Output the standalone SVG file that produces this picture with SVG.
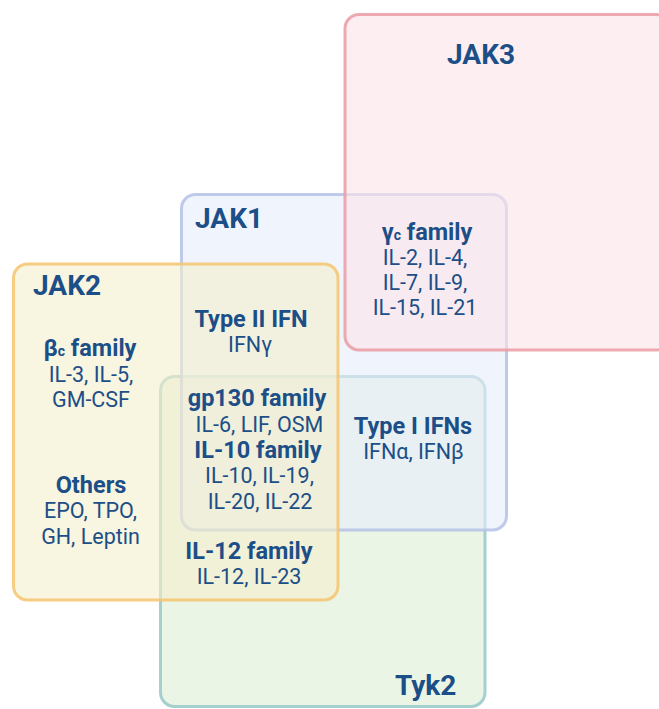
<svg xmlns="http://www.w3.org/2000/svg" width="659" height="709" viewBox="0 0 659 709">
<style>
  .box { stroke-width: 3; }
  .t { font-family: Roboto, "Liberation Sans", sans-serif; fill: #1C4E87; text-anchor: middle; }
  .h { font-size: 28px; font-weight: 700; }
  .b { font-size: 23.5px; font-weight: 700; }
  .r { font-size: 21.5px; font-weight: 400; }
  .sub { font-size: 14px; }
</style>
<rect width="659" height="709" fill="#FFFFFF"/>
<g id="tyk2">
  <rect class="box" x="160.5" y="376.5" width="324.5" height="330" rx="14" fill="#DDEED6" fill-opacity="0.6" stroke="#97C8C8" stroke-opacity="0.85"/>
  <text class="t h" x="395" y="695" style="text-anchor:start">Tyk2</text>
</g>
<g id="jak1">
  <rect class="box" x="181.5" y="194.5" width="325" height="335.5" rx="14" fill="#E6ECFB" fill-opacity="0.6" stroke="#B5C2E6" stroke-opacity="0.85"/>
  <text class="t h" x="195" y="228" style="text-anchor:start">JAK1</text>
</g>
<g id="jak2">
  <rect class="box" x="13.5" y="264" width="324.5" height="336" rx="14" fill="#F4EFCB" fill-opacity="0.6" stroke="#F6C46F" stroke-opacity="0.85"/>
  <text class="t h" x="33" y="295" style="text-anchor:start">JAK2</text>
</g>
<g id="jak3">
  <rect class="box" x="345" y="14.5" width="325" height="335.5" rx="14" fill="#FBE3E7" fill-opacity="0.6" stroke="#EA9BA3" stroke-opacity="0.85"/>
  <text class="t h" x="481" y="64">JAK3</text>
</g>
<g id="connectors"></g>
<g id="labels">
  <text class="t b" x="427" y="240">γ<tspan class="sub">c</tspan> family</text>
  <text class="t r" x="425" y="265">IL-2, IL-4,</text>
  <text class="t r" x="425" y="290">IL-7, IL-9,</text>
  <text class="t r" x="425" y="315">IL-15, IL-21</text>

  <text class="t b" x="251" y="327">Type II IFN</text>
  <text class="t r" x="250" y="352">IFNγ</text>

  <text class="t b" x="90" y="356">β<tspan class="sub">c</tspan> family</text>
  <text class="t r" x="91" y="382">IL-3, IL-5,</text>
  <text class="t r" x="91" y="407">GM-CSF</text>

  <text class="t b" x="257" y="406">gp130 family</text>
  <text class="t r" x="259.5" y="432">IL-6, LIF, OSM</text>
  <text class="t b" x="258" y="458">IL-10 family</text>
  <text class="t r" x="259.5" y="483">IL-10, IL-19,</text>
  <text class="t r" x="260" y="509">IL-20, IL-22</text>

  <text class="t b" x="413" y="434">Type I IFNs</text>
  <text class="t r" x="413.5" y="459">IFNα, IFNβ</text>

  <text class="t b" x="91" y="493">Others</text>
  <text class="t r" x="90.5" y="518">EPO, TPO,</text>
  <text class="t r" x="90.5" y="544">GH, Leptin</text>

  <text class="t b" x="249" y="559">IL-12 family</text>
  <text class="t r" x="249" y="584">IL-12, IL-23</text>
</g>
</svg>
